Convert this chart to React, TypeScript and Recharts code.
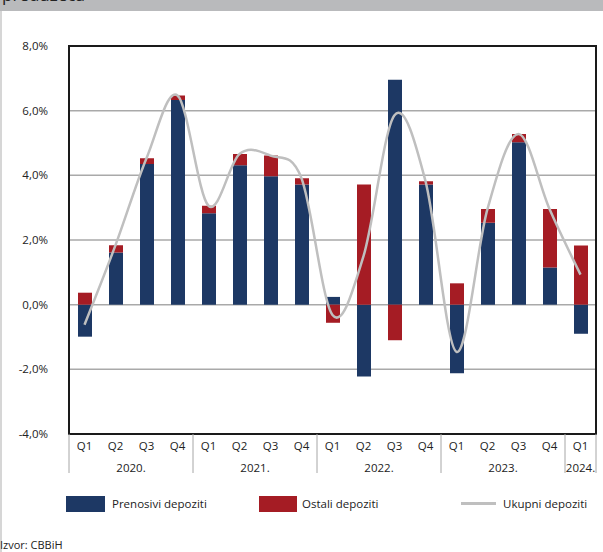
import { ComposedChart, Bar, Line, XAxis, YAxis, CartesianGrid, ReferenceArea } from "recharts";

const quarters = ["Q1", "Q2", "Q3", "Q4", "Q1", "Q2", "Q3", "Q4", "Q1", "Q2", "Q3", "Q4", "Q1", "Q2", "Q3", "Q4", "Q1"];
const years = ["2020.", "2020.", "2020.", "2020.", "2021.", "2021.", "2021.", "2021.", "2022.", "2022.", "2022.", "2022.", "2023.", "2023.", "2023.", "2023.", "2024."];
const prenosivi = [-0.99, 1.61, 4.35, 6.33, 2.83, 4.31, 3.97, 3.72, 0.24, -2.22, 6.96, 3.72, -2.12, 2.53, 5.02, 1.15, -0.9];
const ostali = [0.37, 0.23, 0.18, 0.14, 0.23, 0.35, 0.64, 0.19, -0.56, 3.72, -1.1, 0.1, 0.66, 0.43, 0.26, 1.81, 1.83];
const ukupni = [-0.62, 1.84, 4.53, 6.47, 3.06, 4.66, 4.61, 3.91, -0.32, 1.5, 5.86, 3.82, -1.46, 2.96, 5.28, 2.96, 0.93];
const yTicks = [-4, -2, 0, 2, 4, 6, 8];

const data = quarters.map((q, i) => ({
    q,
    yr: years[i],
    prenosivi: prenosivi[i],
    ostali: ostali[i],
    ukupni: ukupni[i],
}));

const FONT = "'Open Sans', sans-serif";
const BLUE = "#1d3864";
const RED = "#a51c24";
const GREY = "#bfbfbf";

// smoothed line like the spreadsheet one (catmull-rom through every point)
function smoothCurve(context: any) {
    let x0 = NaN, y0 = NaN, x1 = NaN, y1 = NaN, x2 = NaN, y2 = NaN, p = 0;
    const k = 1 / 6;
    const seg = (x: number, y: number) =>
        context.bezierCurveTo(x1 + k * (x2 - x0), y1 + k * (y2 - y0), x2 + k * (x1 - x), y2 + k * (y1 - y), x2, y2);
    return {
        areaStart() {},
        areaEnd() {},
        lineStart() {
            x0 = x1 = x2 = y0 = y1 = y2 = NaN;
            p = 0;
        },
        lineEnd() {
            if (p === 2) context.lineTo(x2, y2);
            else if (p === 3) seg(x1, y1);
        },
        point(x: number, y: number) {
            x = +x;
            y = +y;
            switch (p) {
                case 0:
                    p = 1;
                    context.moveTo(x, y);
                    break;
                case 1:
                    p = 2;
                    x1 = x;
                    y1 = y;
                    break;
                case 2:
                    p = 3;
                    seg(x, y);
                    break;
                default:
                    seg(x, y);
            }
            x0 = x1; x1 = x2; x2 = x;
            y0 = y1; y1 = y2; y2 = y;
        },
    };
}

function QuarterTick(props: any) {
    const { x, y, payload } = props;
    const i = payload.index;
    const half = payload.offset || 15.5;
    return (
        <g>
            <text x={x} y={y} dy="0.71em" textAnchor="middle" fontSize={11.5} fontFamily={FONT} fill="#222">
                {payload.value}
            </text>
            {i % 4 === 0 && <line x1={x - half} x2={x - half} y1={y - 8} y2={y + 31} stroke="#a6a6a6" strokeWidth={1} />}
            {i === quarters.length - 1 && <line x1={x + half} x2={x + half} y1={y - 8} y2={y + 31} stroke="#a6a6a6" strokeWidth={1} />}
        </g>
    );
}

function YearTick(props: any) {
    const { x, y, payload } = props;
    const i = payload.index;
    if (i > 0 && years[i - 1] === years[i]) return <g />;
    let n = 0;
    while (i + n < years.length && years[i + n] === years[i]) n++;
    const half = payload.offset || 15.5;
    return (
        <text x={x + (n - 1) * half} y={y} dy="0.71em" textAnchor="middle" fontSize={11.5} fontFamily={FONT} fill="#222">
            {payload.value}
        </text>
    );
}

const legendText = { position: "absolute" as const, fontSize: 11.5, fontFamily: FONT, color: "#222", top: 496, lineHeight: "16px" };

export default function App() {
    return (
        <div style={{ position: "relative", width: 603, height: 552, background: "#fff", overflow: "hidden" }}>
            <style>{"body{margin:0}"}</style>
            <div style={{ position: "absolute", left: 0, top: 0, width: 603, height: 11, background: "#b9babc", overflow: "hidden" }}>
                <span style={{ position: "absolute", left: 2, top: -14, fontSize: 17, lineHeight: "17px", fontFamily: FONT, color: "#222" }}>
                    preduzeća
                </span>
            </div>
            <div style={{ position: "absolute", left: 0, top: 11, width: 1.5, height: 541, background: "#d6d6d6" }} />
            <div style={{ position: "absolute", left: 0, top: 0 }}>
                <ComposedChart width={603} height={552} data={data} stackOffset="sign" margin={{ top: 46, right: 7, bottom: 74, left: 0 }}>
                    <CartesianGrid xAxisId="q" vertical={false} stroke="#a9a9a9" strokeWidth={1.5} />
                    <XAxis xAxisId="q" dataKey="q" height={22} axisLine={false} tickLine={false} interval={0} tick={<QuarterTick />} />
                    <XAxis xAxisId="yr" dataKey="yr" height={22} axisLine={false} tickLine={false} interval={0} tick={<YearTick />} />
                    <YAxis
                        domain={[-4, 8]}
                        ticks={yTicks}
                        width={69}
                        axisLine={false}
                        tickLine={false}
                        tickMargin={15}
                        tickFormatter={(v: number) => v.toFixed(1).replace(".", ",") + "%"}
                        tick={{ fontSize: 11.5, fontFamily: FONT, fill: "#222" }}
                        allowDataOverflow
                    />
                    <Bar xAxisId="q" dataKey="prenosivi" stackId="a" fill={BLUE} barSize={14} isAnimationActive={false} />
                    <Bar xAxisId="q" dataKey="ostali" stackId="a" fill={RED} barSize={14} isAnimationActive={false} />
                    <Line xAxisId="q" dataKey="ukupni" type={smoothCurve as any} stroke={GREY} strokeWidth={2.5} dot={false} isAnimationActive={false} />
                    <ReferenceArea xAxisId="q" y1={-4} y2={8} fill="none" stroke="#1a1a1a" strokeWidth={2} />
                </ComposedChart>
            </div>
            <div style={{ position: "absolute", left: 66, top: 496, width: 39, height: 16, background: BLUE }} />
            <div style={{ ...legendText, left: 112 }}>Prenosivi depoziti</div>
            <div style={{ position: "absolute", left: 259, top: 496, width: 38, height: 16, background: RED }} />
            <div style={{ ...legendText, left: 302 }}>Ostali depoziti</div>
            <div style={{ position: "absolute", left: 461, top: 502, width: 35, height: 3, background: GREY }} />
            <div style={{ ...legendText, left: 503 }}>Ukupni depoziti</div>
            <div style={{ position: "absolute", left: 0, top: 537, fontSize: 11, fontFamily: FONT, color: "#222", lineHeight: "16px" }}>
                Izvor: CBBiH
            </div>
        </div>
    );
}
